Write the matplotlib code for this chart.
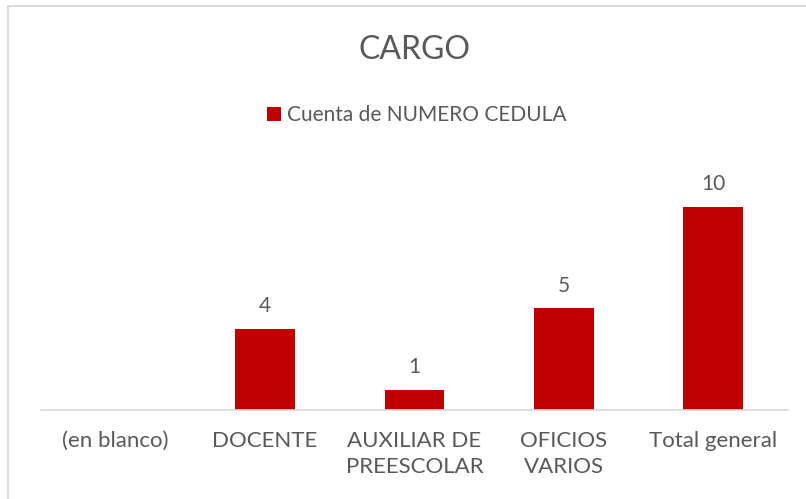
import matplotlib.pyplot as plt
from matplotlib.patches import Rectangle

categories = ["(en blanco)", "DOCENTE", "AUXILIAR DE\nPREESCOLAR", "OFICIOS\nVARIOS", "Total general"]
counts = [0, 4, 1, 5, 10]
series_name = "Cuenta de NUMERO CEDULA"

bar_color = "#C00000"
text_color = "#595959"

plt.rcParams["font.family"] = ["Lato", "DejaVu Sans"]

fig = plt.figure(figsize=(8.06, 4.99), dpi=100)
W, H = 806, 499
ax = fig.add_axes([41 / W, 1 - 410 / H, (788 - 41) / W, (410 - 166) / H])

x = list(range(len(categories)))
bars = ax.bar(x, counts, width=0.4, color=bar_color, label=series_name)
for xi, v in zip(x, counts):
    if v:
        ax.text(xi, v + 0.6, str(v), ha="center", va="bottom", fontsize=15, color=text_color)

ax.set_xlim(-0.5, len(categories) - 0.5)
ax.set_ylim(0, 12)
ax.set_yticks([])
ax.set_xticks(x)
ax.set_xticklabels(categories, fontsize=16, color=text_color, linespacing=1.4, va="top")
ax.tick_params(axis="x", length=0, pad=15)
for side in ["top", "right", "left"]:
    ax.spines[side].set_visible(False)
ax.spines["bottom"].set_color("#D9D9D9")
ax.spines["bottom"].set_linewidth(1.2)

fig.text(415 / W, 1 - 50 / H, "CARGO", ha="center", va="center", fontsize=23, color=text_color)

leg = fig.legend(handles=[bars], labels=[series_name], loc="center",
                 bbox_to_anchor=(417 / W, 1 - 115 / H), frameon=False,
                 fontsize=15, handlelength=0.65, handleheight=0.65, handletextpad=0.3)
for t in leg.get_texts():
    t.set_color(text_color)

# chart area border, cut off at right and bottom like the source screenshot
fig.patches.append(Rectangle((8 / W, -0.05), 1.1, 1 - 6 / H + 0.05, transform=fig.transFigure,
                             fill=False, edgecolor="#D9D9D9", linewidth=1.5))

fig.savefig("out.png", dpi=100)
